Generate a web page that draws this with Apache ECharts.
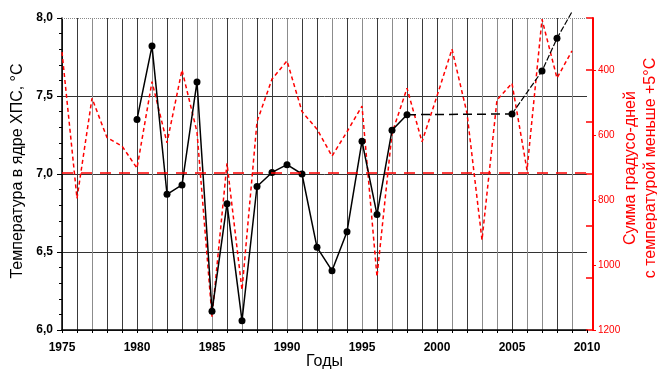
<!DOCTYPE html>
<html>
<head>
<meta charset="utf-8">
<script src="https://cdn.jsdelivr.net/npm/echarts@6/dist/echarts.min.js"></script>
<style>
  html, body { margin: 0; padding: 0; background: #fff; }
  #chart { width: 657px; height: 370px; }
</style>
</head>
<body>
<div id="chart"></div>
<script>
// core temperature (left axis), measured years
var tempYears = [1980, 1981, 1982, 1983, 1984, 1985, 1986, 1987, 1988, 1989,
                 1990, 1991, 1992, 1993, 1994, 1995, 1996, 1997, 1998];
var tempValues = [7.35, 7.82, 6.87, 6.93, 7.59, 6.12, 6.81, 6.06, 6.92, 7.01,
                  7.06, 7.00, 6.53, 6.38, 6.63, 7.21, 6.74, 7.28, 7.38];
// gap bridged with a dashed line
var gapYears = [1998, 2005];
var gapValues = [7.38, 7.385];
// late years
var lateYears = [2005, 2007, 2008, 2009];
var lateValues = [7.385, 7.66, 7.87, 8.04];

// degree-days below +5 C (right axis, inverted)
var ddYears = [1975, 1976, 1977, 1978, 1979, 1980, 1981, 1982, 1983, 1984,
               1985, 1986, 1987, 1988, 1989, 1990, 1991, 1992, 1993, 1994,
               1995, 1996, 1997, 1998, 1999, 2000, 2001, 2002, 2003, 2004,
               2005, 2006, 2007, 2008, 2009];
var ddValues = [345, 795, 487, 608, 634, 702, 436, 624, 400, 591,
                1159, 687, 1077, 559, 428, 372, 528, 582, 665, 590,
                511, 1036, 595, 456, 621, 480, 336, 533, 923, 492,
                441, 708, 244, 425, 341];
var ddMean = 716;

var rightLabels = [400, 600, 800, 1000, 1200];
var rightTicks = [240, 400, 560, 720, 880, 1040, 1200];

function pairs(xs, ys) {
  return xs.map(function (x, i) { return [x, ys[i]]; });
}

// vertical grid lines: dark / light grey like the original
var gridPattern = 'DDGDDDGDDGGDGDDGDDGDGDGDDDGDGGDGGDGD';
var gridColors = gridPattern.split('').map(function (c) { return c === 'D' ? '#3a3a3a' : '#8c8c8c'; });

var red = '#ff0000';
var font = 'Liberation Sans, Arial, sans-serif';

var chart = echarts.init(document.getElementById('chart'), null, { renderer: 'canvas' });
chart.setOption({
  animation: false,
  backgroundColor: '#fff',
  grid: { left: 62, right: 70, top: 18, bottom: 40, outerBoundsMode: 'none' },
  xAxis: {
    type: 'value', min: 1975, max: 2010, interval: 1,
    axisLine: { onZero: false, lineStyle: { color: '#000', width: 1.5 } },
    axisTick: { show: true, length: 3, lineStyle: { color: '#000' } },
    axisLabel: {
      color: '#000', fontWeight: 'bold', fontSize: 12,
      fontFamily: font, margin: 12,
      formatter: function (v) { return v % 5 === 0 ? String(v) : ''; }
    },
    splitLine: { show: true, showMaxLine: false, lineStyle: { color: gridColors, width: 1 } },
    name: 'Годы', nameLocation: 'middle', nameGap: 24, nameMoveOverlap: false,
    nameTextStyle: { color: '#000', fontSize: 16, fontFamily: font }
  },
  yAxis: [{
    type: 'value', min: 6, max: 8, interval: 0.5, position: 'left',
    axisLine: { show: true, lineStyle: { color: '#000', width: 1.5 } },
    axisTick: { show: true, length: 5, lineStyle: { color: '#000' } },
    minorTick: { show: true, splitNumber: 5, length: 3, lineStyle: { color: '#000' } },
    axisLabel: {
      color: '#000', fontWeight: 'bold', fontSize: 12, fontFamily: font, margin: 9,
      formatter: function (v) { return v.toFixed(1).replace('.', ','); }
    },
    splitLine: { show: true, showMaxLine: false, lineStyle: { color: '#333', width: 1 } },
    name: 'Температура в ядре ХПС, °С', nameLocation: 'middle', nameRotate: 90, nameGap: 36,
    nameTextStyle: { color: '#000', fontSize: 16, fontFamily: font, padding: [0, 0, 0, 6] }
  }, {
    type: 'value', position: 'right', offset: 6, min: 240, max: 1200, inverse: true,
    axisLine: { show: true, lineStyle: { color: red, width: 2 } },
    axisTick: { show: true, inside: true, length: 7, customValues: rightTicks, lineStyle: { color: red, width: 1.5 } },
    axisLabel: {
      customValues: rightLabels, color: red, fontSize: 10,
      fontFamily: 'Liberation Sans Narrow, Arial Narrow, sans-serif', margin: 5,
      formatter: function (v) { return String(v); }
    },
    splitLine: { show: false },
    name: 'Сумма градусо-дней\nс температурой меньше +5°С', nameLocation: 'middle', nameRotate: 90,
    nameGap: 28, nameMoveOverlap: false,
    nameTextStyle: { color: red, fontSize: 16, fontFamily: font, lineHeight: 20, padding: [0, 0, 0, 12] }
  }, {
    type: 'value', position: 'right', offset: 6, min: 240, max: 1200, inverse: true,
    axisLine: { show: false },
    axisTick: { show: true, length: 3, customValues: rightLabels, lineStyle: { color: red } },
    axisLabel: { show: false },
    splitLine: { show: false }
  }],
  series: [{
    type: 'line', yAxisIndex: 1, z: 2,
    data: pairs(ddYears, ddValues),
    symbol: 'none',
    lineStyle: { color: red, width: 1.5, type: [4, 3] },
    markLine: {
      silent: true, symbol: 'none', label: { show: false },
      lineStyle: { color: red, width: 1.5, type: [11, 8] },
      data: [{ yAxis: ddMean }]
    }
  }, {
    type: 'line', yAxisIndex: 0, z: 4,
    data: pairs(tempYears, tempValues),
    symbol: 'circle', symbolSize: 7,
    itemStyle: { color: '#000' },
    lineStyle: { color: '#000', width: 1.5 },
    markLine: {
      silent: true, symbol: 'none', label: { show: false },
      lineStyle: { color: '#888', width: 1, type: 'dotted' },
      data: [{ yAxis: 8 }]
    }
  }, {
    type: 'line', yAxisIndex: 0, z: 3,
    data: pairs(gapYears, gapValues),
    symbol: 'none',
    lineStyle: { color: '#000', width: 1.5, type: [9, 5] }
  }, {
    type: 'line', yAxisIndex: 0, z: 4, clip: false,
    data: pairs(lateYears, lateValues),
    symbol: 'circle',
    symbolSize: function (v, p) { return p.dataIndex === lateYears.length - 1 ? 0 : 7; },
    itemStyle: { color: '#000' },
    lineStyle: { color: '#000', width: 1.2, type: [6, 2] }
  }]
});
</script>
</body>
</html>
